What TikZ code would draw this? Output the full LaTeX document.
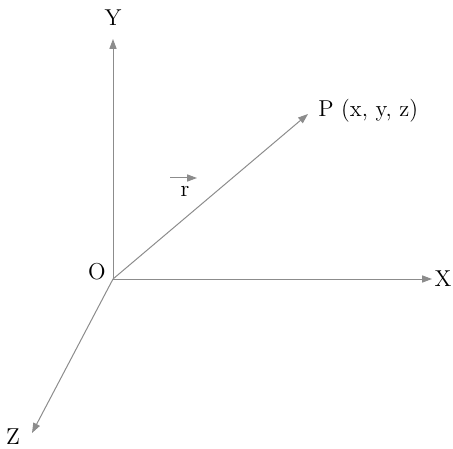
\documentclass[tikz,border=0pt]{standalone}
\usetikzlibrary{arrows.meta}
\definecolor{axisgray}{RGB}{140,140,140}
\tikzset{
    axis/.style={draw=axisgray, line width=0.5pt, -{Triangle[length=5pt,width=3.6pt]}},
    lbl/.style={font=\fontsize{11.5}{13}\selectfont, inner sep=0pt}
}
\begin{document}
\begin{tikzpicture}[x=0.5pt, y=-0.5pt]
    \useasboundingbox (0,0) rectangle (453,448);
    % origin and axis ends
    \coordinate (origin) at (113,279);
    \coordinate (yend) at (113,39);
    \coordinate (xend) at (432,279);
    \coordinate (zend) at (32,433);
    \coordinate (pend) at (308,114);
    % labels
    \node[lbl] (olbl) at (97,272) {O};
    \node[lbl] (ylbl) at (113,18) {Y};
    \node[lbl] (xlbl) at (443,279) {X};
    \node[lbl] (zlbl) at (13,437) {Z};
    \node[lbl, anchor=west] (plbl) at (318,111) {P (x, y, z)};
    \node[lbl] (rlbl) at (185,191) {r};
    % axes and position vector
    \draw[axis] (origin) -- (yend);
    \draw[axis] (origin) -- (xend);
    \draw[axis] (origin) -- (zend);
    \draw[axis] (origin) -- (pend);
    \draw[axis] ([xshift=-7.5pt, yshift=6.5pt]rlbl.center) -- ([xshift=6pt, yshift=6.5pt]rlbl.center);
\end{tikzpicture}
\end{document}
